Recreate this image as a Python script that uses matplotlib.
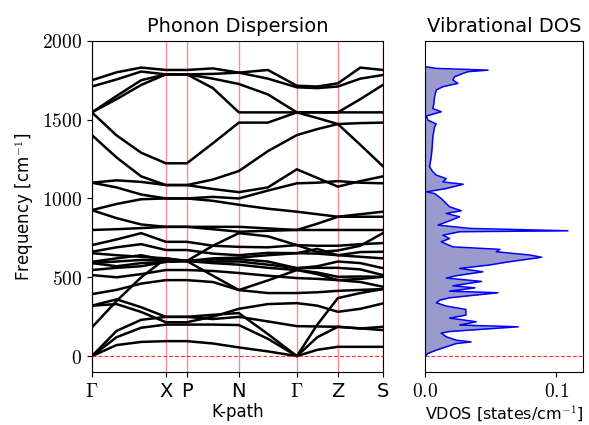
import numpy as np
import matplotlib.pyplot as plt

plt.rcParams['mathtext.fontset'] = 'cm'
plt.rcParams['font.family'] = 'DejaVu Sans'

# k-path: high-symmetry points and sample positions (path length units)
k_ticks = [0, 74, 95, 147, 205, 246, 291]
k_labels = [r'$\Gamma$', 'X', 'P', 'N', r'$\Gamma$', 'Z', 'S']
k_pts = [0, 24.7, 49.3, 74, 95, 121, 147, 176, 205, 225.5, 246, 268.5, 291]

# phonon bands (cm^-1), read at k_pts
bands = [
    [1750, 1800, 1830, 1815, 1815, 1825, 1798, 1815, 1715, 1710, 1730, 1830, 1815],
    [1710, 1755, 1805, 1787, 1787, 1790, 1798, 1760, 1705, 1700, 1710, 1760, 1783],
    [1546, 1650, 1750, 1787, 1787, 1700, 1546, 1546, 1546, 1546, 1546, 1546, 1546],
    [1546, 1630, 1720, 1787, 1787, 1760, 1726, 1660, 1546, 1546, 1546, 1630, 1720],
    [1546, 1400, 1290, 1223, 1223, 1350, 1481, 1481, 1546, 1510, 1472, 1340, 1205],
    [1402, 1260, 1140, 1085, 1085, 1120, 1174, 1300, 1402, 1440, 1472, 1478, 1481],
    [1100, 1115, 1105, 1085, 1085, 1060, 1040, 1070, 1185, 1130, 1075, 1110, 1140],
    [1100, 1070, 1025, 1000, 1000, 1010, 1000, 1050, 1096, 1100, 1110, 1100, 1096],
    [926, 965, 995, 1000, 1000, 985, 960, 935, 916, 900, 884, 900, 916],
    [926, 875, 835, 820, 820, 820, 820, 810, 800, 800, 800, 800, 800],
    [800, 805, 812, 820, 820, 805, 789, 795, 800, 840, 884, 884, 884],
    [704, 740, 780, 725, 725, 700, 693, 690, 704, 700, 700, 710, 717],
    [662, 690, 710, 673, 673, 650, 640, 655, 653, 680, 640, 660, 662],
    [653, 640, 630, 620, 603, 620, 625, 640, 653, 650, 640, 630, 620],
    [598, 620, 640, 609, 603, 700, 780, 760, 704, 660, 670, 700, 780],
    [590, 600, 610, 609, 603, 612, 615, 600, 558, 570, 600, 590, 558],
    [590, 570, 590, 598, 603, 600, 600, 580, 558, 560, 560, 550, 514],
    [546, 560, 570, 598, 603, 590, 580, 560, 546, 530, 503, 505, 503],
    [514, 500, 520, 546, 546, 540, 527, 510, 495, 490, 482, 470, 440],
    [393, 420, 460, 482, 482, 470, 419, 400, 400, 405, 414, 420, 425],
    [182, 350, 500, 620, 603, 510, 419, 480, 546, 520, 482, 490, 503],
    [320, 360, 310, 249, 249, 235, 249, 220, 190, 188, 186, 176, 165],
    [320, 330, 280, 215, 215, 250, 300, 330, 336, 320, 281, 300, 334],
    [0, 160, 230, 249, 249, 262, 273, 140, 0, 200, 368, 400, 425],
    [0, 120, 180, 200, 200, 200, 197, 110, 0, 120, 186, 175, 186],
    [0, 70, 90, 95, 95, 80, 55, 30, 0, 40, 59, 59, 59],
]

# vibrational DOS
dos_freq = [0, 17, 38, 59, 80, 90, 101, 123, 146, 156, 186, 197, 218, 241, 260,
            296, 317, 338, 355, 370, 402, 412, 433, 446, 474, 495, 510, 535, 556,
            578, 599, 627, 641, 662, 677, 693, 725, 746, 767, 789, 795, 810, 831,
            862, 884, 905, 922, 947, 968, 1000, 1031, 1042, 1063, 1090, 1105, 1126,
            1148, 1169, 1201, 1265, 1328, 1392, 1455, 1472, 1497, 1523, 1550, 1570,
            1592, 1645, 1688, 1709, 1730, 1751, 1772, 1793, 1804, 1814, 1825, 1836]
dos_val = [0.0, 0.002, 0.0084, 0.016, 0.0237, 0.035, 0.0237, 0.016, 0.0122, 0.0186,
           0.071, 0.0262, 0.039, 0.0186, 0.031, 0.031, 0.0163, 0.0084, 0.011, 0.0186,
           0.0555, 0.0186, 0.038, 0.0211, 0.043, 0.0160, 0.0237, 0.044, 0.0262,
           0.049, 0.0644, 0.089, 0.080, 0.0542, 0.057, 0.0211, 0.0122, 0.0186,
           0.0135, 0.0262, 0.109, 0.0338, 0.0097, 0.0198, 0.0262, 0.016, 0.0275,
           0.0186, 0.016, 0.0122, 0.0071, 0.0008, 0.016, 0.029, 0.0135, 0.016,
           0.0084, 0.0058, 0.0033, 0.0046, 0.0053, 0.0058, 0.0071, 0.0084, 0.002,
           0.0008, 0.0122, 0.0058, 0.0064, 0.0071, 0.0084, 0.0135, 0.0249, 0.0211,
           0.0224, 0.0287, 0.0326, 0.048, 0.0084, 0.0]

fig = plt.figure(figsize=(5.89, 4.25), dpi=100)
ax1 = fig.add_axes([0.156, 0.125, 0.494, 0.779])
ax2 = fig.add_axes([0.722, 0.125, 0.268, 0.779])

for kx in k_ticks:
    ax1.axvline(kx, color='#ff7070', lw=1, alpha=0.8, zorder=1)
for b in bands:
    ax1.plot(k_pts, b, color='black', lw=1.8, zorder=2)
ax1.axhline(0, color='red', ls='--', lw=0.8, alpha=0.8, zorder=3)

ax1.set_xlim(0, 291)
ax1.set_ylim(-100, 2000)
ax1.set_xticks(k_ticks)
ax1.set_xticklabels(k_labels, fontsize=14)
yt = [0, 500, 1000, 1500, 2000]
ax1.set_yticks(yt)
ax1.set_yticklabels(['$%d$' % v for v in yt], fontsize=14)
ax1.set_xlabel('K-path', fontsize=12, labelpad=2)
ax1.set_ylabel(r'Frequency [cm$^{-1}$]', fontsize=12)
ax1.set_title('Phonon Dispersion', fontsize=14)

ax2.fill_betweenx(dos_freq, 0, dos_val, color='#9a9acc', lw=0)
ax2.plot(dos_val, dos_freq, color='blue', lw=1.1)
ax2.axhline(0, color='red', ls='--', lw=0.8, alpha=0.8)
ax2.set_xlim(0, 0.1206)
ax2.set_ylim(-100, 2000)
ax2.set_yticks([])
ax2.set_xticks([0.0, 0.1])
ax2.set_xticklabels(['$0.0$', '$0.1$'], fontsize=14)
ax2.set_xlabel(r'VDOS [states/cm$^{-1}$]', fontsize=11.5, labelpad=2)
ax2.set_title('Vibrational DOS', fontsize=14)

fig.savefig('out.png', dpi=100)
